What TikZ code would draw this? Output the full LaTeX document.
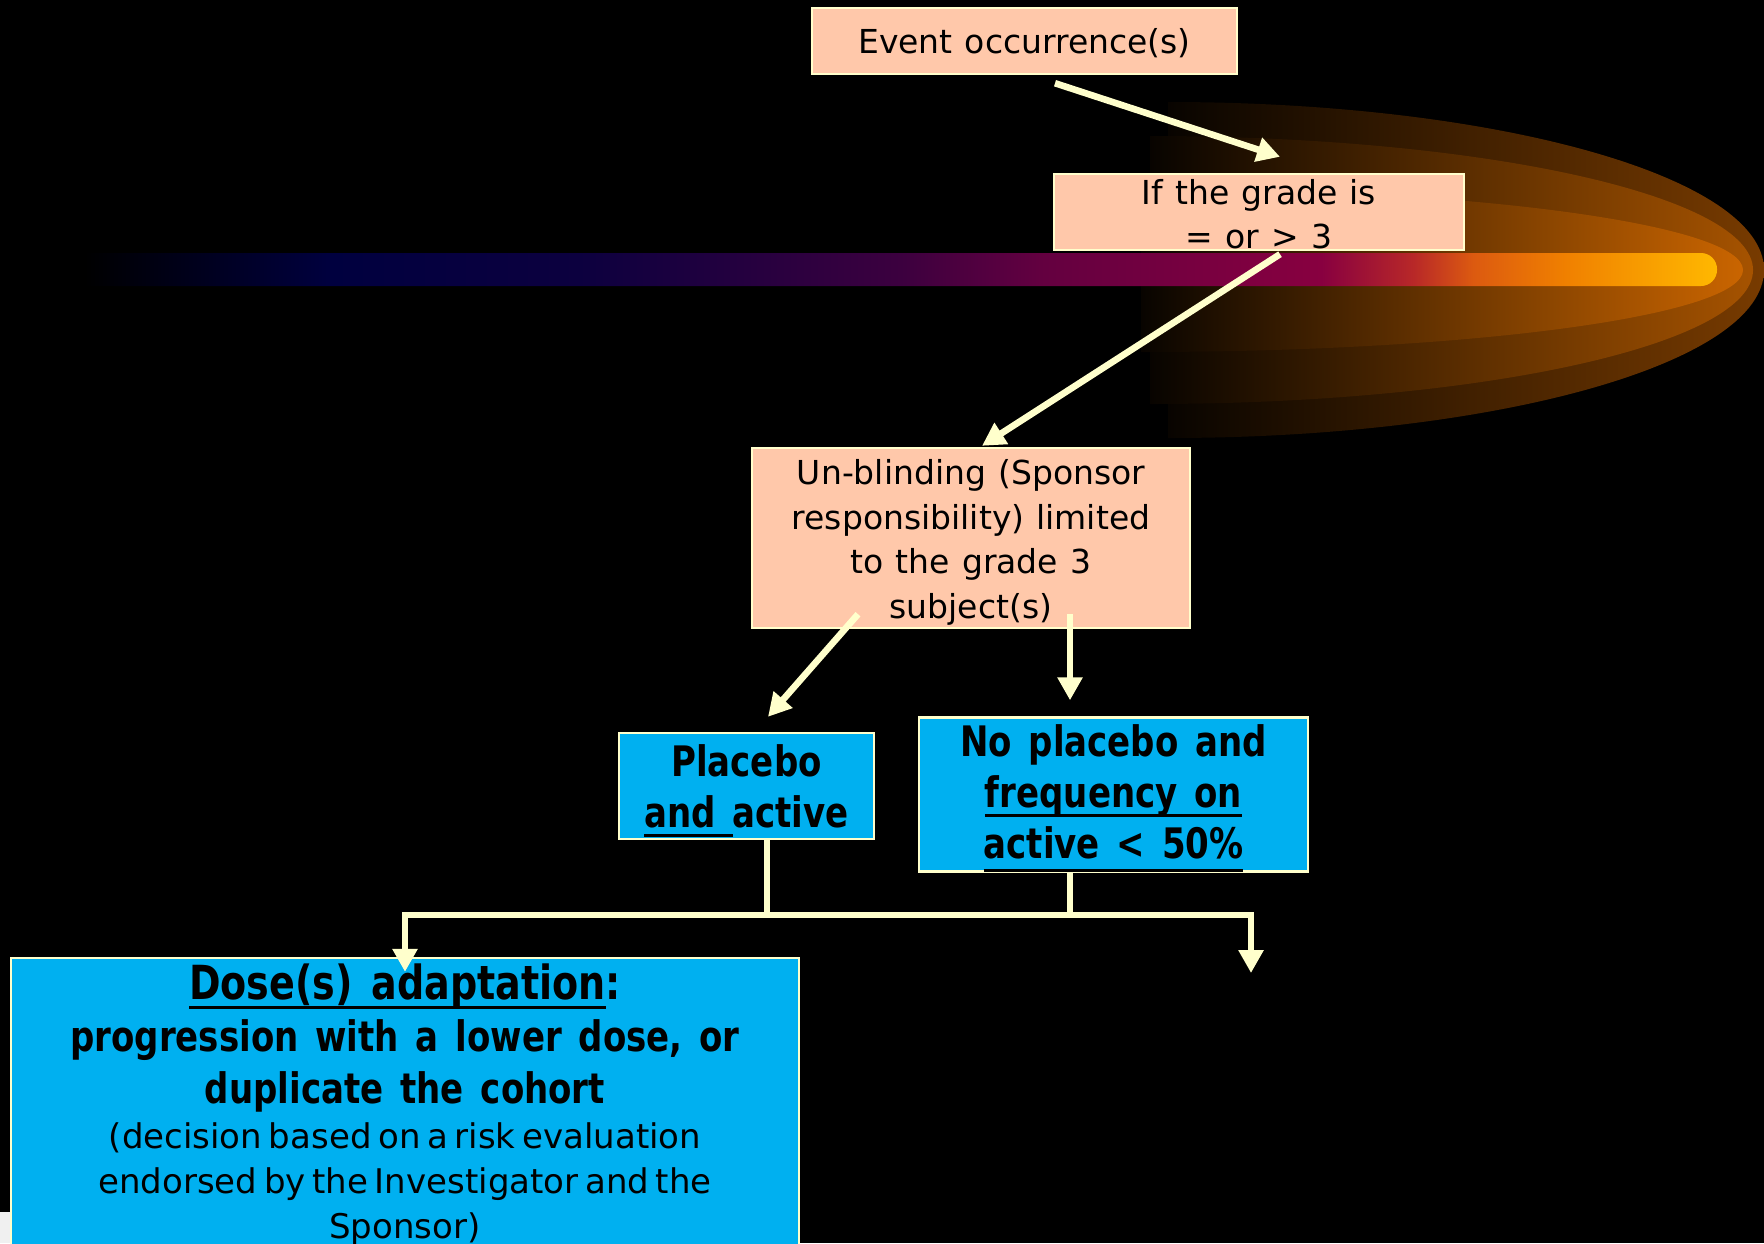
\documentclass[tikz,border=0pt]{standalone}
\usepackage{fontspec}
\setmainfont{DejaVu Sans}[WordSpace=1.15, BoldFeatures={FakeStretch=0.81}]
\usetikzlibrary{arrows.meta}

\definecolor{cream}{HTML}{FFFFCC}
\definecolor{peach}{HTML}{FFC8AA}
\definecolor{skyblue}{HTML}{00B0F0}
\definecolor{glowdark}{HTML}{080400}
\definecolor{glowouter}{HTML}{783B00}
\definecolor{glowmid}{HTML}{A65300}
\definecolor{glowinner}{HTML}{CA6500}
\definecolor{barnavy}{HTML}{00003F}
\definecolor{barindigo}{HTML}{0C003F}
\definecolor{barplum}{HTML}{3C003F}
\definecolor{barwine}{HTML}{640040}
\definecolor{barcrimson}{HTML}{880040}
\definecolor{barred}{HTML}{B82828}
\definecolor{barrust}{HTML}{DC5A10}
\definecolor{barorange}{HTML}{F08000}
\definecolor{baramber}{HTML}{FFB800}

% colour ramp of the horizontal streak (25bp..75bp spans the path)
\pgfdeclarehorizontalshading{streak}{100bp}{%
  color(0bp)=(black); color(25bp)=(black); color(25.5bp)=(black);
  color(33bp)=(barnavy); color(40.5bp)=(barindigo); color(50.25bp)=(barplum);
  color(54.6bp)=(barwine); color(63bp)=(barcrimson); color(65.8bp)=(barred);
  color(67.6bp)=(barrust); color(70.4bp)=(barorange); color(75bp)=(baramber);
  color(100bp)=(baramber)}

% underline with a fixed thickness; optional depth below the baseline
\newsavebox\ulbox
\newcommand\myul[2][4.6pt]{\sbox\ulbox{#2}\rlap{\rule[-#1]{\wd\ulbox}{1.5pt}}\usebox\ulbox}
% invisible strut that lowers a block of lines inside its box
\newcommand\topstrut[1]{\rule{0pt}{#1}}
% bold face with wider word gaps
\newcommand\boldtext{\bfseries\spaceskip=0.4em\relax}

\begin{document}
\begin{tikzpicture}[x=0.5pt,y=-0.5pt,
  peachbox/.style={draw=cream, line width=1.2pt, fill=peach, text=black,
    align=center, inner sep=0pt, font=\fontsize{16.5}{22.3}\selectfont},
  bluebox/.style={draw=cream, line width=1.2pt, fill=skyblue, text=black,
    align=center, inner sep=0pt, font=\fontsize{21}{25.5}\selectfont\boldtext},
  link/.style={draw=cream, line width=3.3pt, -{Triangle[length=11.5pt,width=12pt]}},
  wire/.style={draw=cream, line width=3.3pt},
]
\useasboundingbox (0,0) rectangle (1764,1243);
\fill[black] (0,0) rectangle (1764,1243);
\clip (0,0) rectangle (1764,1243);

% glowing halo, three nested half-ellipses
\begin{scope}
  \clip (1168,270) ellipse [x radius=596, y radius=168];
  \shade[left color=glowdark, right color=glowouter] (1168,100) rectangle (1764,440);
\end{scope}
\begin{scope}
  \clip (1150,270) ellipse [x radius=603, y radius=134];
  \shade[left color=glowdark, right color=glowmid] (1150,130) rectangle (1753,410);
\end{scope}
\begin{scope}
  \clip (1141,270) ellipse [x radius=602, y radius=82];
  \shade[left color=glowdark, right color=glowinner] (1141,185) rectangle (1743,355);
\end{scope}

% the streak
\shade[shading=streak, rounded corners=8pt] (68,253) rectangle (1717,286);

% boxes
\node[peachbox, minimum width=212.5pt, minimum height=33pt] (event) at (1024.5,41)
  {\topstrut{14.7pt}Event occurrence(s)};
\node[peachbox, minimum width=205pt, minimum height=38pt] (grade) at (1259,212)
  {\topstrut{14.7pt}If the grade is\\= or > 3};
\node[peachbox, minimum width=219pt, minimum height=90pt] (unblind) at (971,538)
  {\topstrut{17pt}Un-blinding (Sponsor\\responsibility) limited\\to the grade 3\\subject(s)};
\node[bluebox, minimum width=127.5pt, minimum height=53pt] (placebo) at (746.5,786)
  {\topstrut{20.8pt}Placebo\\\myul{and\ }active};
\node[bluebox, minimum width=194.5pt, minimum height=75.5pt] (noplacebo) at (1113.5,794.5)
  {\topstrut{19.6pt}No placebo and\\\myul{frequency on}\\\myul[6.4pt]{active < 50\%}};
\node[draw=cream, line width=1.2pt, fill=skyblue, minimum width=394pt,
  minimum height=152.5pt, inner sep=0pt] (dose) at (405,1110.5) {};
\node[anchor=north, text width=390pt, align=center, inner sep=0pt] (dosetext) at (405,963.5)
  {{\fontsize{23.5}{26}\selectfont\boldtext \myul{Dose(s) adaptation}:\par}
   {\fontsize{21}{26}\selectfont\boldtext progression with a lower dose, or\\duplicate the cohort\par}
   {\fontsize{17}{22.5}\selectfont (decision based on a risk evaluation\\endorsed by the Investigator and the\\Sponsor)\par}};

% small light patch in the lower left corner
\fill[gray!12] (0,1212) rectangle (10,1243);

% connectors
\draw[link] ([shift={(30.5,8)}]event.south) -- ([shift={(21,-16)}]grade.north);
\draw[link] ([shift={(21,3)}]grade.south) -- ([shift={(11,-1)}]unblind.north);
\draw[link] ([shift={(-113,-15)}]unblind.south) -- ([shift={(21.5,-15)}]placebo.north);
\draw[link] ([shift={(99,-15)}]unblind.south) -- ([shift={(-43.5,-16)}]noplacebo.north);

\coordinate (busL) at (405,915);
\coordinate (busR) at (1251,915);
\coordinate (dropR) at (1251,973);
\coordinate (pdrop) at ([xshift=10.25pt]placebo.south);
\coordinate (ndrop) at ([xshift=-21.75pt]noplacebo.south);
\draw[wire] (pdrop) -- (pdrop |- busL);
\draw[wire] (ndrop) -- (ndrop |- busL);
\draw[wire, {Triangle[length=11.5pt,width=12pt]}-{Triangle[length=11.5pt,width=12pt]}]
  ([yshift=-7.5pt]dose.north) -- (busL) -- (busR) -- (dropR);
\end{tikzpicture}
\end{document}
